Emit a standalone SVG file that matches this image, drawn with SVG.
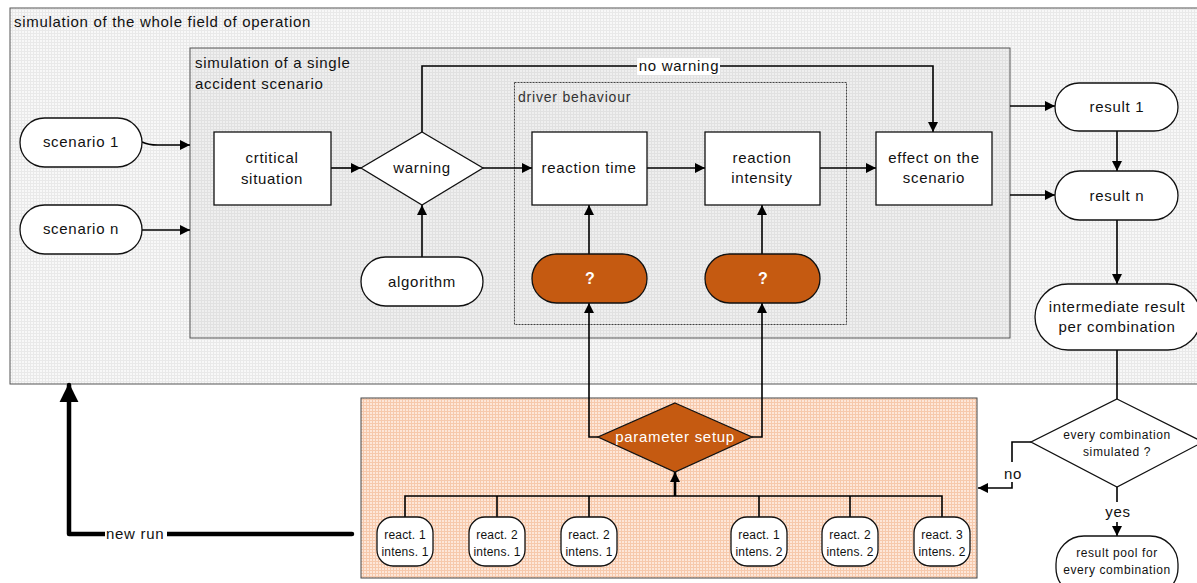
<svg xmlns="http://www.w3.org/2000/svg" width="1197" height="583" viewBox="0 0 1197 583">
<defs>
<pattern id="gridA" width="3" height="3" patternUnits="userSpaceOnUse">
<rect width="3" height="3" fill="#f8f8f8"/>
<path d="M0,0.5H3M0.5,0V3" stroke="#e9e9e9" stroke-width="1"/>
</pattern>
<pattern id="gridB" width="3" height="3" patternUnits="userSpaceOnUse">
<rect width="3" height="3" fill="#efefef"/>
<path d="M0,0.5H3M0.5,0V3" stroke="#e1e1e1" stroke-width="1"/>
</pattern>
<pattern id="gridC" width="3" height="3" patternUnits="userSpaceOnUse">
<rect width="3" height="3" fill="#fde7d9"/>
<path d="M0,0.5H3M0.5,0V3" stroke="#f6c9ac" stroke-width="1"/>
</pattern>
<marker id="arr" viewBox="0 0 10 10" refX="10" refY="5" markerWidth="11" markerHeight="10" markerUnits="userSpaceOnUse" orient="auto">
<path d="M0,0L10,5L0,10Z" fill="#000"/>
</marker>
<marker id="arrBig" viewBox="0 0 10 10" refX="9" refY="5" markerWidth="19" markerHeight="20" markerUnits="userSpaceOnUse" orient="auto">
<path d="M0,0L10,5L0,10Z" fill="#000"/>
</marker>
</defs>
<style>
text{font-family:"Liberation Sans",Arial,sans-serif;font-size:15px;letter-spacing:0.7px;fill:#111;}
.c{text-anchor:middle;}
.s{font-size:12px;letter-spacing:0.6px;}
.p{font-size:12px;letter-spacing:0.2px;}
.w{fill:#fff;}
.b{font-weight:bold;font-size:16px;letter-spacing:0;}
.node{fill:#fff;stroke:#111;stroke-width:1.3;}
.orange{fill:#c55a11;stroke:#111;stroke-width:1.3;}
.ln{fill:none;stroke:#000;stroke-width:1.6;}
.la{fill:none;stroke:#000;stroke-width:1.6;marker-end:url(#arr);}
</style>

<g id="frame-whole">
<rect x="10" y="8" width="1195" height="376" fill="url(#gridA)" stroke="#555" stroke-width="1"/>
<text x="14" y="27">simulation of the whole field of operation</text>
</g>
<g id="frame-single">
<rect x="190" y="48" width="820" height="290" fill="url(#gridB)" stroke="#555" stroke-width="1"/>
<text x="195" y="68">simulation of a single</text>
<text x="195" y="89">accident scenario</text>
</g>
<g id="frame-driver">
<rect x="514.5" y="82.5" width="332" height="242" fill="none" stroke="#444" stroke-width="1" stroke-dasharray="2,1"/>
<text x="518" y="102" style="font-size:14px;letter-spacing:0.8px;fill:#333">driver behaviour</text>
</g>
<g id="frame-param">
<rect x="361" y="398" width="616" height="180" fill="url(#gridC)" stroke="#444" stroke-width="1"/>
</g>

<g id="connectors">
<path class="la" d="M142,142 Q148,145 158,145 L190,145"/>
<path class="la" d="M142,230 L190,230"/>
<path class="la" d="M331,168 L361,168"/>
<path class="la" d="M483,168 L532,168"/>
<path class="la" d="M647,168 L705,168"/>
<path class="la" d="M820,168 L876,168"/>
<path class="la" d="M422,132 L422,66 L933,66 L933,132"/>
<path class="la" d="M422,257 L422,205"/>
<path class="la" d="M589,254 L589,205"/>
<path class="la" d="M762,254 L762,205"/>
<path class="la" d="M1010,106 L1055,106"/>
<path class="la" d="M1010,195 L1055,195"/>
<path class="la" d="M1117,131 L1117,171"/>
<path class="la" d="M1117,220 L1117,284"/>
<path class="ln" d="M1117,350 L1117,399"/>
<path class="la" d="M1031,442 L1012,442 L1012,488 L978,488"/>
<path class="la" d="M1117,487 L1117,536"/>
<path class="la" d="M598,437 L589,437 L589,303"/>
<path class="la" d="M752,437 L762,437 L762,303"/>
<path d="M405,517 L405,496 L942,496 L942,517 M497,517 L497,496 M589,517 L589,496 M759,517 L759,496 M850,517 L850,496" fill="none" stroke="#000" stroke-width="1.6"/>
<path d="M675,496 L675,472" fill="none" stroke="#000" stroke-width="2.6" marker-end="url(#arr)"/>
<path d="M352,534 L69,534 L69,385" fill="none" stroke="#000" stroke-width="4.5" stroke-linecap="round" stroke-linejoin="round" marker-end="url(#arrBig)"/>
<rect x="637" y="58" width="83" height="17" fill="#fff"/>
<text class="c" x="679" y="71">no warning</text>
<rect x="105" y="526" width="62" height="16" fill="#fff"/>
<text x="106" y="539">new run</text>
<rect x="1000" y="462" width="24" height="20" fill="#fff"/>
<text class="c" x="1013" y="479">no</text>
<rect x="1102" y="502" width="30" height="20" fill="#fff"/>
<text class="c" x="1118" y="517">yes</text>
</g>

<g id="scenario1">
<rect class="node" x="20" y="118" width="122" height="49" rx="24.5"/>
<text class="c" x="81" y="147">scenario 1</text>
</g>
<g id="scenarion">
<rect class="node" x="20" y="205" width="122" height="49" rx="24.5"/>
<text class="c" x="81" y="234">scenario n</text>
</g>
<g id="critical">
<rect class="node" x="214" y="132" width="117" height="73"/>
<text class="c" x="272" y="163">crtitical</text>
<text class="c" x="272" y="184">situation</text>
</g>
<g id="warning">
<polygon class="node" points="422,132 483,168 422,205 361,168"/>
<text class="c" x="422" y="173">warning</text>
</g>
<g id="algorithm">
<rect class="node" x="361" y="257" width="122" height="49" rx="24.5"/>
<text class="c" x="422" y="287">algorithm</text>
</g>
<g id="reaction-time">
<rect class="node" x="532" y="132" width="115" height="73"/>
<text class="c" x="589" y="173">reaction time</text>
</g>
<g id="reaction-intensity">
<rect class="node" x="705" y="132" width="115" height="73"/>
<text class="c" x="762" y="163">reaction</text>
<text class="c" x="762" y="183">intensity</text>
</g>
<g id="q1">
<rect class="orange" x="532" y="254" width="115" height="49" rx="24.5"/>
<text class="c w b" x="590" y="284">?</text>
</g>
<g id="q2">
<rect class="orange" x="705" y="254" width="115" height="49" rx="24.5"/>
<text class="c w b" x="763" y="284">?</text>
</g>
<g id="effect">
<rect class="node" x="876" y="132" width="116" height="73"/>
<text class="c" x="934" y="163">effect on the</text>
<text class="c" x="934" y="183">scenario</text>
</g>
<g id="result1">
<rect class="node" x="1055" y="83" width="123" height="48" rx="24"/>
<text class="c" x="1117" y="112">result 1</text>
</g>
<g id="resultn">
<rect class="node" x="1055" y="171" width="123" height="49" rx="24.5"/>
<text class="c" x="1117" y="201">result n</text>
</g>
<g id="intermediate">
<rect class="node" x="1035" y="284" width="166" height="66" rx="33"/>
<text class="c" x="1117" y="312">intermediate result</text>
<text class="c" x="1117" y="332">per combination</text>
</g>
<g id="every-combination">
<polygon class="node" points="1117,399 1203,442 1117,487 1031,442"/>
<text class="c s" x="1117" y="439">every combination</text>
<text class="c s" x="1117" y="456">simulated ?</text>
</g>
<g id="result-pool">
<rect class="node" x="1056" y="536" width="122" height="60" rx="28"/>
<text class="c s" x="1117" y="557">result pool for</text>
<text class="c s" x="1117" y="574">every combination</text>
</g>
<g id="parameter-setup">
<polygon class="orange" points="675,403 752,437 675,472 598,437"/>
<text class="c w" x="675" y="442">parameter setup</text>
</g>
<g id="ri11">
<rect class="node" x="377" y="517" width="56" height="49" rx="16"/>
<text class="c p" x="405" y="539">react. 1</text>
<text class="c p" x="405" y="556">intens. 1</text>
</g>
<g id="ri21">
<rect class="node" x="469" y="517" width="56" height="49" rx="16"/>
<text class="c p" x="497" y="539">react. 2</text>
<text class="c p" x="497" y="556">intens. 1</text>
</g>
<g id="ri21b">
<rect class="node" x="561" y="517" width="56" height="49" rx="16"/>
<text class="c p" x="589" y="539">react. 2</text>
<text class="c p" x="589" y="556">intens. 1</text>
</g>
<g id="ri12">
<rect class="node" x="731" y="517" width="56" height="49" rx="16"/>
<text class="c p" x="759" y="539">react. 1</text>
<text class="c p" x="759" y="556">intens. 2</text>
</g>
<g id="ri22">
<rect class="node" x="822" y="517" width="56" height="49" rx="16"/>
<text class="c p" x="850" y="539">react. 2</text>
<text class="c p" x="850" y="556">intens. 2</text>
</g>
<g id="ri32">
<rect class="node" x="914" y="517" width="56" height="49" rx="16"/>
<text class="c p" x="942" y="539">react. 3</text>
<text class="c p" x="942" y="556">intens. 2</text>
</g>
</svg>
